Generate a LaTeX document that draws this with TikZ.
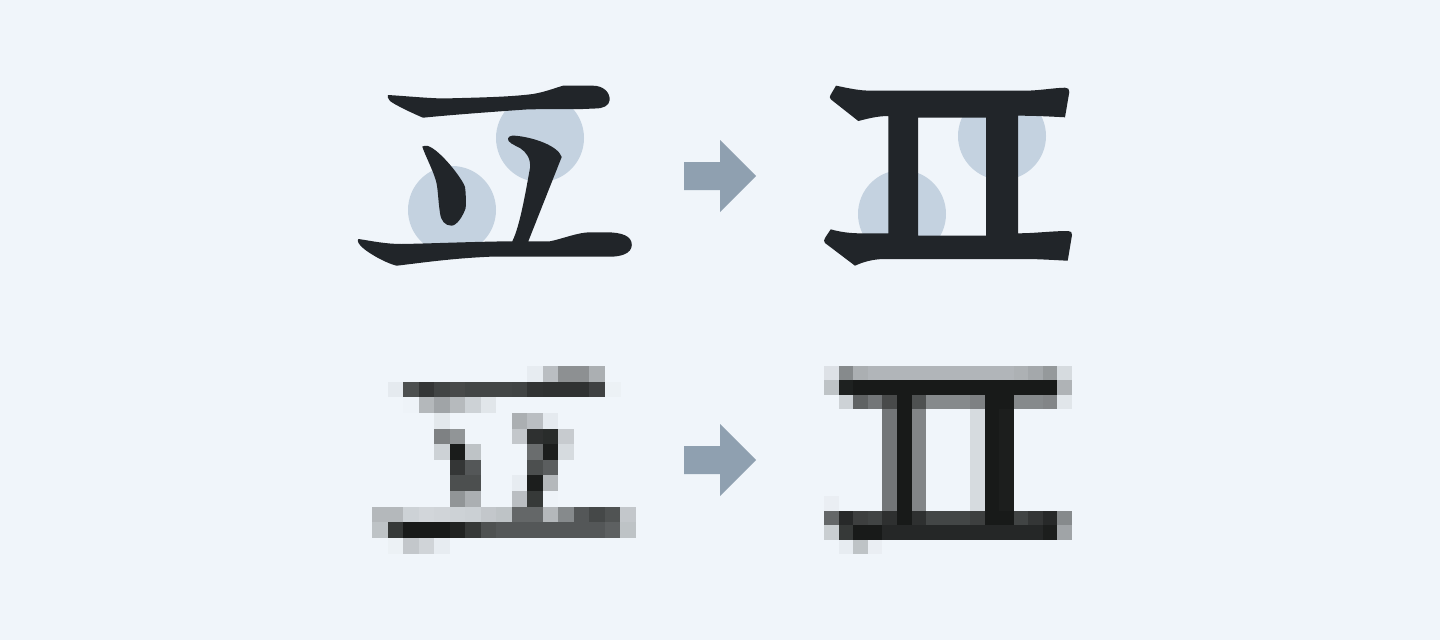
\documentclass[tikz,border=0pt]{standalone}
\usepackage{tikz}
\usepackage{xcolor}
\definecolor{paperbg}{RGB}{240,245,250}
\definecolor{dotblue}{RGB}{196,210,224}
\definecolor{glyphink}{RGB}{33,37,41}
\definecolor{pixink}{RGB}{24,26,25}
\definecolor{arrowgray}{RGB}{143,160,176}

\begin{document}
\begin{tikzpicture}[
    x=1pt, y=-1pt,
    dot/.style={circle, fill=dotblue, minimum size=88pt, inner sep=0pt},
    stroke/.style={fill=glyphink},
    pix/.style={fill=pixink!#1!paperbg},
    pointer/.style={fill=arrowgray}
]
    \fill[paperbg] (0,0) rectangle (1440,640);

    \node[dot] (d0) at (540,138) {};
    \node[dot] (d1) at (452,210) {};
    \node[dot] (d2) at (1002,136) {};
    \node[dot] (d3) at (902,214) {};

    \fill[stroke] (388,95) .. controls (405,96) and (425,98) .. (443,98.5)
        .. controls (480,97.5) and (510,97) .. (533,94)
        .. controls (545,92) and (555,88) .. (563,85.7) -- (593,85.7)
        .. controls (603,85.7) and (610,92) .. (609.7,100)
        .. controls (609,106) and (603,108.5) .. (595,108.5) -- (583,109)
        .. controls (560,109) and (540,109) .. (526,109.5)
        .. controls (490,112) and (450,115) .. (423,117.7)
        .. controls (412,113) and (395,105) .. (390,101)
        .. controls (388,99) and (387,96) .. (388,95) -- cycle;
    \fill[stroke] (358.5,239) .. controls (372,241) and (385,244) .. (402,244)
        .. controls (430,243.5) and (480,241.5) .. (512.3,241.3)
        .. controls (520,226) and (526,190) .. (530,168)
        .. controls (531,158) and (526,152) .. (520,148)
        .. controls (514,145) and (507,142) .. (508,138.5)
        .. controls (509,135) and (514,135.5) .. (518,136)
        .. controls (535,138) and (558,146) .. (561.7,157)
        -- (528.3,241.3) -- (550,241.3)
        .. controls (562,239) and (578,232.3) .. (590,232.3) -- (606,232.3)
        .. controls (622,232.3) and (632,236) .. (631.8,245)
        .. controls (631.5,254) and (620,256.7) .. (610,256.7) -- (490,256.7)
        .. controls (450,258.5) and (420,263) .. (396.7,265.7)
        .. controls (385,263) and (362,250) .. (358.5,243)
        .. controls (357.5,241) and (357.5,239.5) .. (358.5,239) -- cycle;
    \fill[stroke] (422.3,146.5) .. controls (423,145.5) and (426,146) .. (428,146)
        .. controls (440,150) and (462,178) .. (465,187)
        .. controls (466,193) and (466,202) .. (465.7,208)
        .. controls (463,216) and (457,225.5) .. (451.5,225.7)
        .. controls (445,225.5) and (441,221) .. (440,213)
        .. controls (438,200) and (438,188) .. (436,181)
        .. controls (433,170) and (424,153) .. (422.3,146.5) -- cycle;

    \fill[stroke, even odd rule] (836,85.7) .. controls (848,88) and (858,90.7) .. (872,90.7)
        -- (1023,90.7) .. controls (1040,90.7) and (1052,88) .. (1065,87.7)
        .. controls (1068,87.7) and (1069.5,89) .. (1069.3,92) -- (1065,117.3)
        .. controls (1050,116.5) and (1035,115.7) .. (1018,115.7)
        -- (1018,233.3) .. controls (1035,233.3) and (1052,231) .. (1068,231)
        .. controls (1071,231) and (1072.2,232.5) .. (1072,235) -- (1067.7,260.7)
        .. controls (1052,260) and (1040,259) .. (1023,259) -- (885,259)
        .. controls (872,259) and (862,262.5) .. (855,265.7) -- (825,243)
        .. controls (823.5,241.5) and (824,240) .. (825,238) -- (830.7,229.3)
        .. controls (840,232) and (850,233.3) .. (860,233.3) -- (888.3,233.3)
        -- (888.3,116) .. controls (878,116) and (868,118.5) .. (858.3,121)
        -- (831,99.5) .. controls (829.5,98) and (829.5,96.5) .. (830.5,95) -- cycle
        (918,117.7) rectangle (986,235.7);

    \foreach \s in {0,284} {
        \fill[pointer] (684,162+\s) -- (720,162+\s) -- (720,140+\s) -- (756,176+\s)
            -- (720,212+\s) -- (720,190+\s) -- (684,190+\s) -- cycle;
    }

    \foreach \rowvals [count=\r from 0] in {
        {0,0,0,0,0,0,0,0,0,0,4,25,46,46,32,0,0},
        {0,5,76,87,81,78,80,80,80,81,88,89,89,89,82,2,0},
        {0,0,1,28,37,27,16,7,0,0,0,0,0,0,0,0,0},
        {0,0,0,0,6,0,0,0,0,32,25,5,0,0,0,0,0},
        {0,0,0,0,53,44,0,0,0,21,90,92,19,0,0,0,0},
        {0,0,0,0,16,99,23,0,0,0,62,98,12,0,0,0,0},
        {0,0,0,0,0,87,72,0,0,0,76,69,0,0,0,0,0},
        {0,0,0,0,0,76,76,0,0,4,98,28,0,0,0,0,0},
        {0,0,0,0,0,44,32,0,0,25,86,1,0,0,0,0,0},
        {28,28,16,14,15,16,17,21,23,65,65,28,49,72,79,74,21},
        {23,86,100,100,100,96,86,75,72,72,72,72,72,72,72,68,23},
        {0,2,21,15,4,0,0,0,0,0,0,0,0,0,0,0,0}} {
        \foreach \v [count=\c from 0] in \rowvals {
            \ifnum\v>0
                \fill[pix=\v] ({372+\c*15.53},{366+\r*15.64}) rectangle +(15.63,15.74);
            \fi
        }
    }

    \foreach \rowvals [count=\r from 0] in {
        {9,49,32,29,29,29,29,29,29,29,29,29,29,31,35,42,12},
        {23,97,100,100,100,100,100,100,100,100,100,100,100,100,100,100,30},
        {0,16,67,58,78,100,75,49,49,49,53,100,100,49,49,51,7},
        {0,0,0,0,58,100,51,0,0,0,12,100,98,0,0,0,0},
        {0,0,0,0,58,100,51,0,0,0,12,100,98,0,0,0,0},
        {0,0,0,0,58,100,51,0,0,0,12,100,98,0,0,0,0},
        {0,0,0,0,58,100,51,0,0,0,12,100,98,0,0,0,0},
        {0,0,0,0,58,100,51,0,0,0,12,100,98,0,0,0,0},
        {0,0,0,0,58,100,51,0,0,0,12,100,98,0,0,0,0},
        {3,0,0,0,58,100,51,0,0,0,12,100,98,0,0,0,0},
        {65,93,83,81,90,100,90,80,80,80,83,100,100,81,87,93,49},
        {18,86,100,100,94,94,94,94,94,94,94,94,94,94,94,98,37},
        {0,4,23,3,0,0,0,0,0,0,0,0,0,0,0,0,0}} {
        \foreach \v [count=\c from 0] in \rowvals {
            \ifnum\v>0
                \fill[pix=\v] ({824+\c*14.59},{366+\r*14.46}) rectangle +(14.69,14.56);
            \fi
        }
    }
\end{tikzpicture}
\end{document}
